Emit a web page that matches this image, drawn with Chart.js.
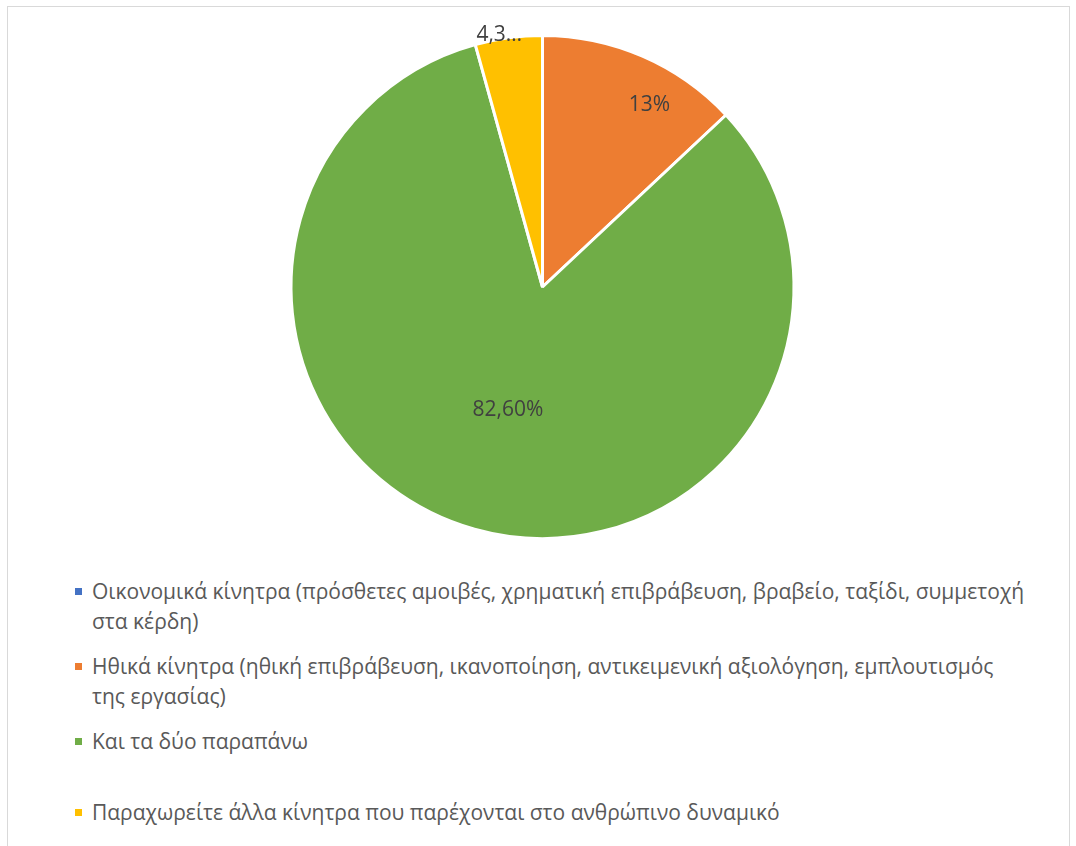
<!DOCTYPE html>
<html lang="el">
<head>
<meta charset="utf-8">
<title>Κίνητρα</title>
<script src="https://cdn.jsdelivr.net/npm/chart.js@4"></script>
<style>
    html, body { margin: 0; padding: 0; background: #fff; }
    body { width: 1076px; height: 846px; position: relative; overflow: hidden; font-family: "Open Sans", "Noto Sans", sans-serif; }
    .frame { position: absolute; left: 7px; top: 6px; width: 1063px; height: 900px; border: 1px solid #d9d9d9; box-sizing: border-box; }
    .chart-box { position: absolute; left: 0; top: 0; width: 1076px; height: 576px; }
    .legend { position: absolute; left: 74px; top: 576px; width: 955px; margin: 0; padding: 0; list-style: none; }
    .legend li { position: relative; height: 75px; padding-left: 18px; font-size: 21px; line-height: 30px; color: #595959; }
    .legend li:nth-child(3) { height: 71px; }
    .legend li .swatch { position: absolute; left: 1px; top: 12px; width: 7px; height: 7px; }
</style>
</head>
<body>
<div class="frame"></div>
<div class="chart-box"><canvas id="pieChart"></canvas></div>
<ul class="legend" id="legend"></ul>

<script>
// κατηγορίες και τιμές (%)
const categories = [
    'Οικονομικά κίνητρα (πρόσθετες αμοιβές, χρηματική επιβράβευση, βραβείο, ταξίδι, συμμετοχή στα κέρδη)',
    'Ηθικά κίνητρα (ηθική επιβράβευση, ικανοποίηση, αντικειμενική αξιολόγηση, εμπλουτισμός της εργασίας)',
    'Και τα δύο παραπάνω',
    'Παραχωρείτε άλλα κίνητρα που παρέχονται στο ανθρώπινο δυναμικό'
];
const percentValues = [0, 13, 82.6, 4.3];
const labelDecimals = [0, 0, 2, 2];
const sliceColors = ['#4472c4', '#ed7d31', '#70ad47', '#ffc000'];

// μορφή ετικέτας με κόμμα ως υποδιαστολή
function formatLabel(v, d) {
    return v.toFixed(d).replace('.', ',') + '%';
}

// ετικέτες τιμών πάνω στα κομμάτια
const sliceLabels = {
    id: 'sliceLabels',
    afterDatasetsDraw(chart, args, opts) {
        const ctx = chart.ctx;
        const meta = chart.getDatasetMeta(0);
        ctx.save();
        ctx.font = '21px "Open Sans", "Noto Sans", sans-serif';
        ctx.fillStyle = '#404040';
        ctx.textAlign = 'center';
        ctx.textBaseline = 'middle';
        meta.data.forEach((arc, i) => {
            const v = percentValues[i];
            if (!v) return;
            const p = opts.place[i];
            const mid = (arc.startAngle + arc.endAngle) / 2 + p[1] * Math.PI / 180;
            const r = arc.outerRadius * p[0];
            let text = formatLabel(v, labelDecimals[i]);
            if (p[2]) text = text.slice(0, p[2]) + '…';
            ctx.fillText(text, arc.x + Math.cos(mid) * r, arc.y + Math.sin(mid) * r);
        });
        ctx.restore();
    }
};

const ctx = document.getElementById('pieChart').getContext('2d');
new Chart(ctx, {
    type: 'pie',
    data: {
        labels: categories,
        datasets: [{
            data: percentValues,
            backgroundColor: sliceColors,
            borderColor: '#ffffff',
            borderWidth: 3
        }]
    },
    options: {
        responsive: true,
        maintainAspectRatio: false,
        animation: false,
        layout: { padding: { top: 34, bottom: 36, left: 9, right: 0 } },
        plugins: {
            legend: { display: false },
            tooltip: { enabled: false },
            sliceLabels: { place: [[0, 0], [0.84, 7], [0.51, 0], [1.015, -2, 3]] }
        }
    },
    plugins: [sliceLabels]
});

// υπόμνημα
const legendEl = document.getElementById('legend');
categories.forEach((name, i) => {
    const li = document.createElement('li');
    li.innerHTML = `<span class="swatch" style="background:${sliceColors[i]}"></span>${name}`;
    legendEl.appendChild(li);
});
</script>
</body>
</html>
